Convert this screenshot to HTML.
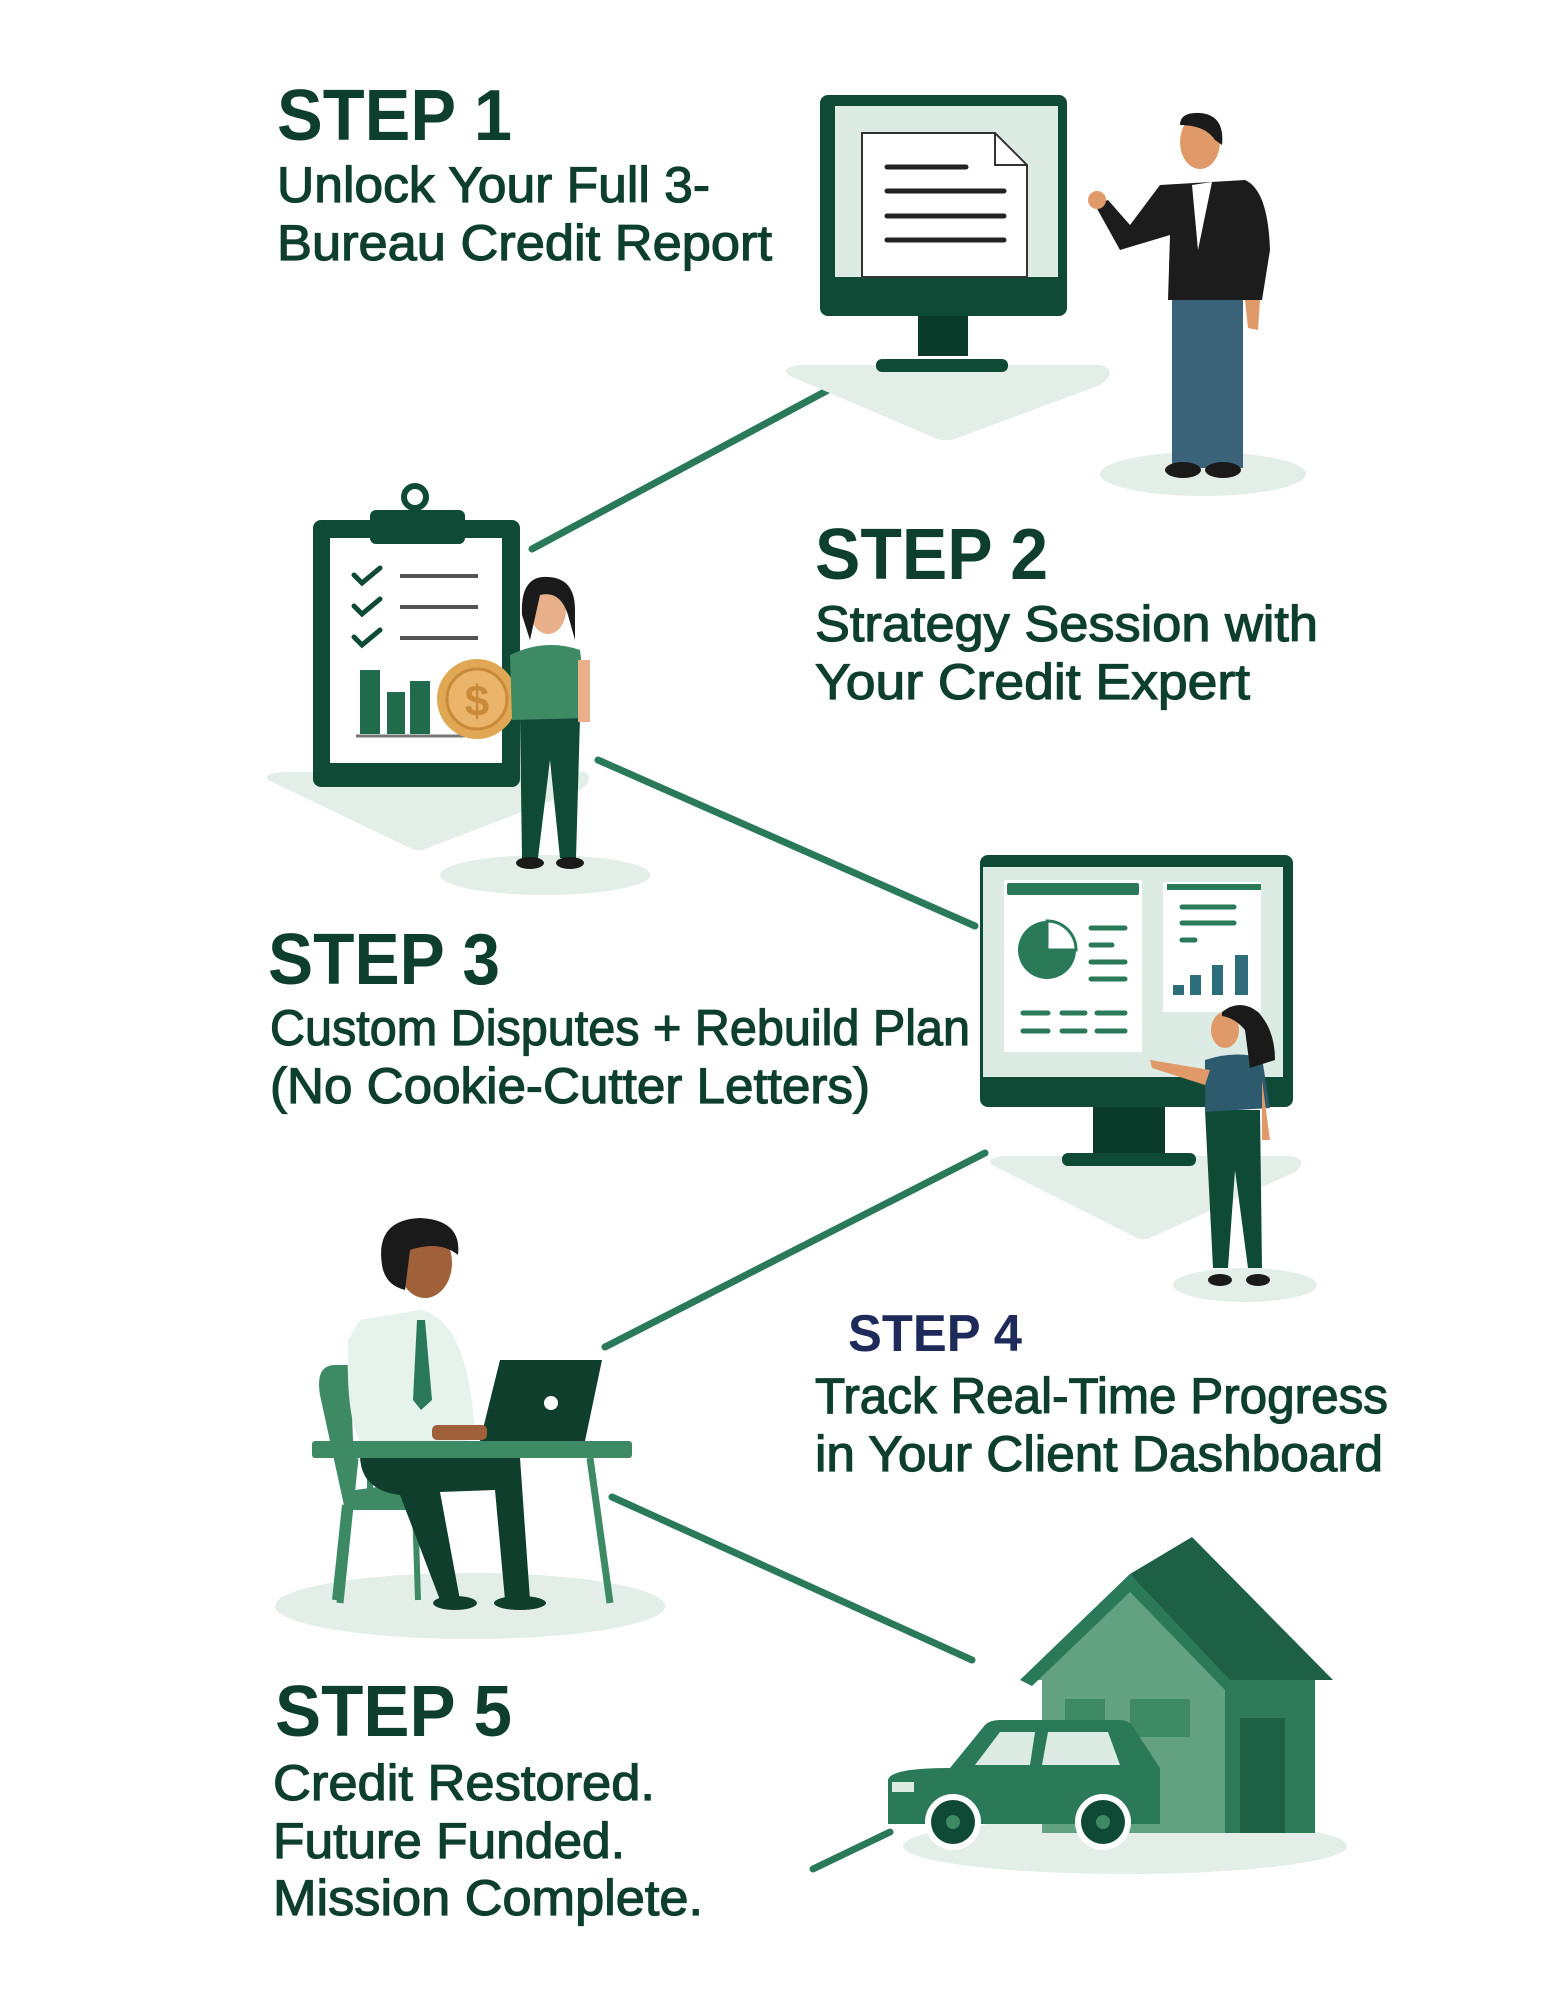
<!DOCTYPE html>
<html><head><meta charset="utf-8"><style>
html,body{margin:0;padding:0;background:#fff;}
svg{display:block;}
text{font-family:"Liberation Sans",sans-serif;}
.s{stroke:#0e3f2e;stroke-width:1.2;}
</style></head><body>
<svg width="1545" height="2000" viewBox="0 0 1545 2000" xmlns="http://www.w3.org/2000/svg">
<rect width="1545" height="2000" fill="#fff"/>
<g fill="#0e3f2e" font-weight="bold">
<text x="277" y="140" font-size="72" textLength="235" lengthAdjust="spacingAndGlyphs">STEP 1</text>
<text class="s" x="277" y="202" font-size="50" font-weight="normal" textLength="433" lengthAdjust="spacingAndGlyphs">Unlock Your Full 3-</text>
<text class="s" x="277" y="260" font-size="50" font-weight="normal" textLength="495" lengthAdjust="spacingAndGlyphs">Bureau Credit Report</text>
<text x="815" y="579" font-size="72" textLength="233" lengthAdjust="spacingAndGlyphs">STEP 2</text>
<text class="s" x="815" y="641" font-size="50" font-weight="normal" textLength="503" lengthAdjust="spacingAndGlyphs">Strategy Session with</text>
<text class="s" x="815" y="699" font-size="50" font-weight="normal" textLength="435" lengthAdjust="spacingAndGlyphs">Your Credit Expert</text>
<text x="268" y="984" font-size="72" textLength="232" lengthAdjust="spacingAndGlyphs">STEP 3</text>
<text class="s" x="270" y="1045" font-size="50" font-weight="normal" textLength="700" lengthAdjust="spacingAndGlyphs">Custom Disputes + Rebuild Plan</text>
<text class="s" x="270" y="1103" font-size="50" font-weight="normal" textLength="600" lengthAdjust="spacingAndGlyphs">(No Cookie-Cutter Letters)</text>
<text x="848" y="1351" font-size="52" fill="#1d2a5a" textLength="174" lengthAdjust="spacingAndGlyphs">STEP 4</text>
<text class="s" x="815" y="1413" font-size="50" font-weight="normal" textLength="573" lengthAdjust="spacingAndGlyphs">Track Real-Time Progress</text>
<text class="s" x="815" y="1471" font-size="50" font-weight="normal" textLength="568" lengthAdjust="spacingAndGlyphs">in Your Client Dashboard</text>
<text x="275" y="1736" font-size="72" textLength="237" lengthAdjust="spacingAndGlyphs">STEP 5</text>
<text class="s" x="273" y="1800" font-size="50" font-weight="normal" textLength="382" lengthAdjust="spacingAndGlyphs">Credit Restored.</text>
<text class="s" x="273" y="1858" font-size="50" font-weight="normal" textLength="352" lengthAdjust="spacingAndGlyphs">Future Funded.</text>
<text class="s" x="273" y="1915" font-size="50" font-weight="normal" textLength="430" lengthAdjust="spacingAndGlyphs">Mission Complete.</text>
</g>
<g stroke="#2a7a5a" stroke-width="7" stroke-linecap="round">
<line x1="830" y1="389" x2="532" y2="549"/>
<line x1="598" y1="760" x2="975" y2="926"/>
<line x1="985" y1="1153" x2="605" y2="1347"/>
<line x1="612" y1="1497" x2="972" y2="1660"/>
<line x1="890" y1="1832" x2="813" y2="1869"/>
</g>
<path d="M790 376 Q778 368 800 365 L1100 365 Q1120 370 1100 385 L955 439 Q945 442 935 438 Z" fill="#e2eee7"/>
<rect x="820" y="95" width="247" height="221" rx="8" fill="#0f4a36"/>
<rect x="835" y="106" width="223" height="171" fill="#dcebe3"/>
<path d="M862 133 L995 133 L1027 165 L1027 277 L862 277 Z" fill="#fff" stroke="#333" stroke-width="2"/>
<path d="M995 133 L995 165 L1027 165" fill="none" stroke="#333" stroke-width="2"/>
<g stroke="#222" stroke-width="5" stroke-linecap="round"><line x1="887" y1="167" x2="966" y2="167"/><line x1="887" y1="191" x2="1004" y2="191"/><line x1="887" y1="216" x2="1004" y2="216"/><line x1="887" y1="240" x2="1004" y2="240"/></g>
<rect x="918" y="316" width="50" height="40" fill="#0a3a2a"/>
<rect x="876" y="359" width="132" height="13" rx="6" fill="#0f4a36"/>
<ellipse cx="1203" cy="474" rx="103" ry="22" fill="#e2eee7"/>
<rect x="1172" y="296" width="35" height="172" fill="#3a6279"/><rect x="1205" y="296" width="38" height="172" fill="#3a6279"/>
<ellipse cx="1183" cy="470" rx="18" ry="8" fill="#1a1a1a"/><ellipse cx="1223" cy="470" rx="18" ry="8" fill="#1a1a1a"/>
<path d="M1160 185 L1245 180 Q1268 190 1270 250 L1262 300 L1168 300 L1170 235 L1120 250 L1095 205 L1108 200 L1130 225 Z" fill="#1c1c1c"/>
<path d="M1192 185 L1212 182 L1198 250 Z" fill="#fff"/>
<path d="M1245 300 L1260 300 L1258 330 L1248 328 Z" fill="#e09a6a"/>
<circle cx="1097" cy="200" r="9" fill="#e09a6a"/>
<ellipse cx="1200" cy="142" rx="20" ry="27" fill="#e09a6a"/>
<path d="M1180 125 Q1180 112 1200 113 Q1225 115 1222 145 L1215 140 Q1205 125 1180 125 Z" fill="#1a1a1a"/>
<path d="M268 780 Q262 772 290 772 L585 772 Q595 780 580 790 L425 849 Q418 852 410 848 Z" fill="#e2eee7"/>
<rect x="313" y="520" width="207" height="267" rx="8" fill="#0f4a36"/>
<rect x="330" y="538" width="172" height="225" fill="#fff"/>
<rect x="370" y="510" width="95" height="34" rx="6" fill="#0f4a36"/>
<circle cx="415" cy="497" r="11" fill="none" stroke="#0f4a36" stroke-width="6"/>
<g stroke="#0f4a36" stroke-width="5" fill="none" stroke-linecap="round"><path d="M354 575 L362 583 L380 568"/><path d="M354 606 L362 614 L380 599"/><path d="M354 637 L362 645 L380 630"/></g>
<g stroke="#555" stroke-width="4"><line x1="400" y1="576" x2="478" y2="576"/><line x1="400" y1="607" x2="478" y2="607"/><line x1="400" y1="638" x2="478" y2="638"/></g>
<rect x="360" y="670" width="20" height="64" fill="#1f6b4c"/><rect x="387" y="692" width="18" height="42" fill="#1f6b4c"/><rect x="410" y="681" width="20" height="53" fill="#1f6b4c"/>
<line x1="356" y1="736" x2="465" y2="736" stroke="#777" stroke-width="3"/>
<circle cx="477" cy="699" r="40" fill="#e0a855"/><circle cx="477" cy="699" r="30" fill="#eab46a" stroke="#c98a3a" stroke-width="3"/>
<text x="477" y="716" font-size="44" text-anchor="middle" fill="#c98a3a" font-weight="bold">$</text>
<ellipse cx="545" cy="875" rx="105" ry="20" fill="#e2eee7"/>
<path d="M520 718 L580 718 L576 858 L560 858 L550 760 L538 858 L522 858 Z" fill="#0f4a36"/>
<path d="M510 655 Q545 638 580 650 L588 718 L512 720 Z" fill="#3e8a65"/>
<rect x="578" y="660" width="12" height="62" fill="#e8b08a"/>
<ellipse cx="530" cy="863" rx="14" ry="6" fill="#1a1a1a"/><ellipse cx="570" cy="863" rx="14" ry="6" fill="#1a1a1a"/>
<ellipse cx="548" cy="610" rx="18" ry="24" fill="#e8b08a"/>
<path d="M522 615 Q520 575 548 577 Q575 578 575 610 L575 640 L568 615 Q560 590 540 595 L530 640 Z" fill="#1a1a1a"/>
<path d="M992 1165 Q985 1158 1005 1156 L1290 1156 Q1310 1160 1295 1172 L1150 1238 Q1142 1242 1133 1236 Z" fill="#e2eee7"/>
<rect x="980" y="855" width="313" height="252" rx="8" fill="#0f4a36"/>
<rect x="983" y="867" width="300" height="210" fill="#dcebe3"/>
<rect x="1004" y="880" width="138" height="172" fill="#fff"/>
<rect x="1007" y="883" width="132" height="12" rx="2" fill="#2a7a5a"/>
<circle cx="1047" cy="950" r="29" fill="#2a7a5a"/><path d="M1047 950 L1047 921 A29 29 0 0 1 1076 950 Z" fill="#fff" stroke="#2a7a5a" stroke-width="3"/>
<g stroke="#2a7a5a" stroke-width="5" stroke-linecap="round"><line x1="1091" y1="928" x2="1125" y2="928"/><line x1="1091" y1="945" x2="1112" y2="945"/><line x1="1091" y1="962" x2="1125" y2="962"/><line x1="1091" y1="979" x2="1125" y2="979"/>
<line x1="1023" y1="1013" x2="1048" y2="1013"/><line x1="1062" y1="1013" x2="1085" y2="1013"/><line x1="1097" y1="1013" x2="1125" y2="1013"/><line x1="1023" y1="1031" x2="1048" y2="1031"/><line x1="1062" y1="1031" x2="1085" y2="1031"/><line x1="1097" y1="1031" x2="1125" y2="1031"/></g>
<rect x="1163" y="882" width="98" height="130" fill="#fff"/>
<rect x="1167" y="884" width="94" height="6" fill="#2a7a5a"/>
<g stroke="#2a7a5a" stroke-width="5" stroke-linecap="round"><line x1="1182" y1="907" x2="1234" y2="907"/><line x1="1182" y1="923" x2="1234" y2="923"/><line x1="1182" y1="940" x2="1195" y2="940"/></g>
<g fill="#2e6e7a"><rect x="1173" y="985" width="11" height="10"/><rect x="1190" y="975" width="11" height="20"/><rect x="1212" y="965" width="11" height="30"/><rect x="1235" y="955" width="13" height="40"/></g>
<rect x="1093" y="1107" width="72" height="48" fill="#0a3a2a"/>
<rect x="1062" y="1153" width="134" height="13" rx="6" fill="#0f4a36"/>
<ellipse cx="1245" cy="1285" rx="72" ry="17" fill="#e2eee7"/>
<path d="M1205 1110 L1260 1110 L1262 1268 L1248 1268 L1235 1170 L1228 1268 L1213 1268 Z" fill="#0f4a36"/>
<path d="M1205 1060 Q1235 1050 1262 1058 L1270 1108 L1205 1112 Z" fill="#2e5a6e"/>
<path d="M1210 1070 L1150 1060 L1152 1068 L1205 1085 Z" fill="#e09a6a"/>
<path d="M1262 1080 L1270 1140 L1262 1140 Z" fill="#e09a6a"/>
<ellipse cx="1220" cy="1280" rx="12" ry="6" fill="#1a1a1a"/><ellipse cx="1258" cy="1280" rx="12" ry="6" fill="#1a1a1a"/>
<ellipse cx="1225" cy="1030" rx="14" ry="18" fill="#e09a6a"/>
<path d="M1222 1012 Q1240 998 1258 1012 Q1275 1030 1275 1060 L1250 1068 L1245 1030 Q1235 1018 1222 1016 Z" fill="#1a1a1a"/>
<ellipse cx="470" cy="1606" rx="195" ry="33" fill="#e2eee7"/>
<path d="M320 1395 Q315 1365 335 1365 L350 1365 L355 1490 L430 1480 L435 1510 L345 1510 Z" fill="#3e8a65"/>
<g stroke="#3e8a65" stroke-width="6"><line x1="345" y1="1505" x2="335" y2="1600"/><line x1="415" y1="1505" x2="418" y2="1600"/><line x1="370" y1="1458" x2="370" y2="1505"/></g>
<path d="M360 1320 L420 1310 Q470 1320 475 1440 L370 1450 Q345 1440 348 1340 Z" fill="#e6f2ec"/>
<path d="M417 1320 L425 1320 L432 1400 L421 1410 L413 1400 Z" fill="#2a7a5a"/>
<path d="M360 1455 L520 1458 L530 1600 L505 1600 L495 1490 L440 1492 L460 1600 L440 1600 L400 1495 Q360 1490 360 1455 Z" fill="#0f3f2c"/>
<ellipse cx="455" cy="1603" rx="22" ry="7" fill="#0f3f2c"/><ellipse cx="520" cy="1603" rx="26" ry="7" fill="#0f3f2c"/>
<rect x="312" y="1441" width="320" height="17" rx="3" fill="#3e8a65"/>
<g stroke="#3e8a65" stroke-width="7"><line x1="355" y1="1458" x2="340" y2="1603"/><line x1="590" y1="1458" x2="610" y2="1603"/></g>
<path d="M500 1360 L602 1360 L585 1441 L480 1441 Z" fill="#0f3f2c"/>
<circle cx="551" cy="1403" r="7" fill="#fff"/>
<rect x="432" y="1425" width="55" height="15" rx="5" fill="#a0603a"/>
<ellipse cx="425" cy="1263" rx="27" ry="35" fill="#a0603a"/>
<path d="M382 1265 Q375 1220 420 1218 Q462 1220 458 1255 Q440 1240 410 1250 L405 1290 Q385 1285 382 1265 Z" fill="#1a1a1a"/>
<ellipse cx="1125" cy="1846" rx="222" ry="28" fill="#e2eee7"/>
<path d="M1192 1537 L1333 1680 L1315 1680 L1315 1833 L1225 1833 L1225 1680 L1130 1574 Z" fill="#1d6046"/>
<rect x="1225" y="1680" width="90" height="153" fill="#2e7a5a"/>
<path d="M1130 1574 L1020 1680 L1042 1680 L1042 1833 L1225 1833 L1225 1680 Z" fill="#62a283"/>
<path d="M1130 1574 L1020 1680 L1032 1686 L1130 1592 L1225 1690 L1230 1680 Z" fill="#2a7a5a"/>
<rect x="1240" y="1718" width="45" height="115" fill="#1d6046"/>
<rect x="1065" y="1699" width="40" height="38" fill="#3e8a65"/><rect x="1130" y="1699" width="60" height="38" fill="#3e8a65"/>
<path d="M888 1780 Q890 1768 950 1768 L985 1725 Q990 1720 1000 1720 L1120 1720 Q1130 1720 1135 1730 L1160 1768 L1160 1824 L888 1824 Z" fill="#2a7a5a"/>
<path d="M975 1765 L1000 1732 L1035 1732 L1030 1765 Z" fill="#dcebe3"/><path d="M1042 1765 L1048 1732 L1108 1732 L1120 1765 Z" fill="#dcebe3"/>
<rect x="892" y="1782" width="22" height="10" fill="#dcebe3"/>
<circle cx="953" cy="1822" r="28" fill="#fff"/><circle cx="953" cy="1822" r="22" fill="#0f4a36"/><circle cx="953" cy="1822" r="7" fill="#3e8a65"/>
<circle cx="1103" cy="1822" r="28" fill="#fff"/><circle cx="1103" cy="1822" r="22" fill="#0f4a36"/><circle cx="1103" cy="1822" r="7" fill="#3e8a65"/>
</svg>
</body></html>
